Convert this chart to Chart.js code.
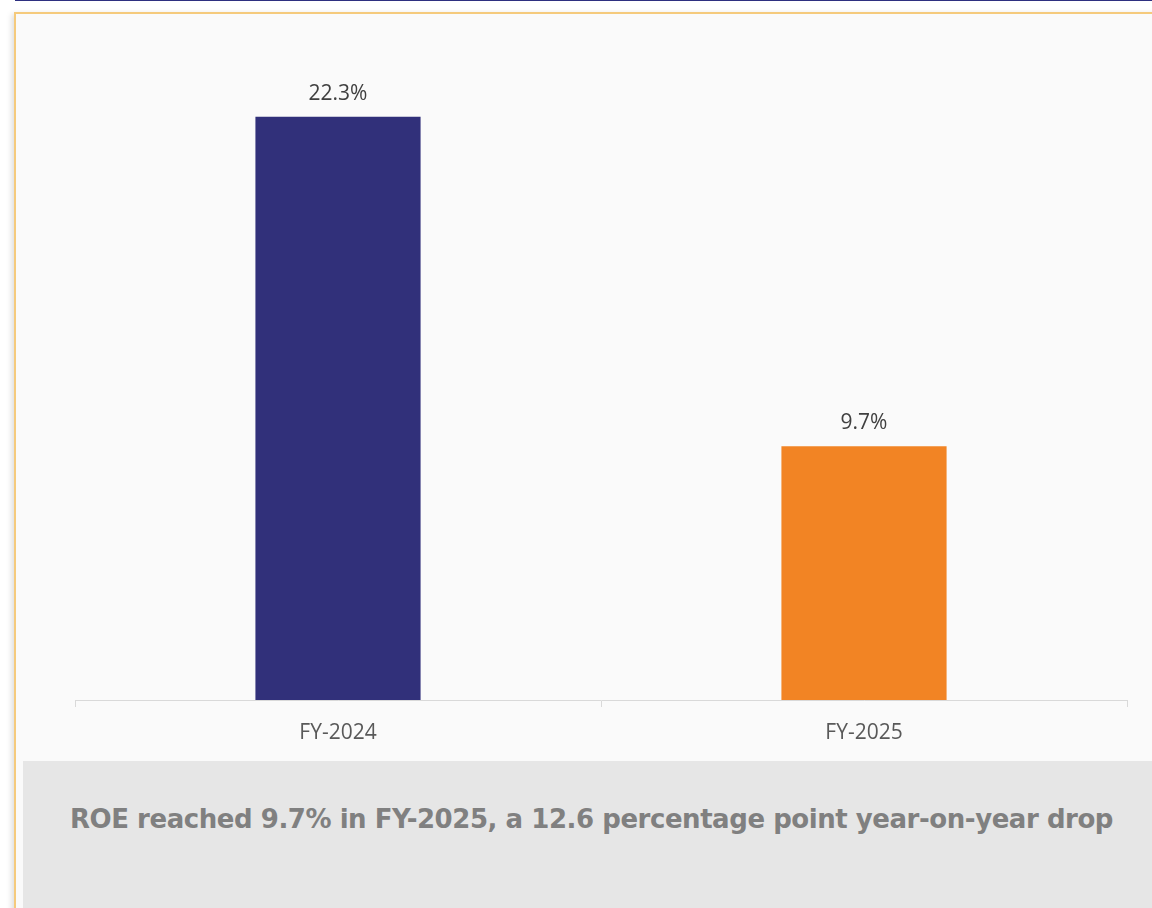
<!DOCTYPE html>
<html>
<head>
<meta charset="utf-8">
<script src="https://cdn.jsdelivr.net/npm/chart.js@4/dist/chart.umd.min.js"></script>
<style>
  html, body { margin: 0; padding: 0; background: #ffffff; width: 1152px; height: 908px; overflow: hidden; }
  #topline { position: absolute; left: 15px; top: 0; width: 1137px; height: 1px; background: #2e3080; }
  #panel { position: absolute; left: 14px; top: 12px; width: 1150px; height: 910px; background: #fafafa;
           border-top: 2px solid #f5ca7c; border-left: 2px solid #f5ca7c; box-shadow: -2px 2px 6px rgba(0,0,0,0.15); }
  #wrap { position: absolute; left: 0; top: 0; width: 1152px; height: 760px; }
  #note { position: absolute; left: 23px; top: 761px; width: 1129px; height: 147px; background: #e6e6e6; }
  #note p { margin: 0; position: absolute; left: 8px; right: 0; top: 43px; text-align: center;
            font-family: "DejaVu Sans", sans-serif; font-weight: bold; font-size: 26px; color: #808080; letter-spacing: -0.45px; }
</style>
</head>
<body>
<div id="topline"></div>
<div id="panel"></div>
<div id="wrap"><canvas id="c" width="1152" height="760"></canvas></div>
<div id="note"><p>ROE reached 9.7% in FY-2025, a 12.6 percentage point year-on-year drop</p></div>
<script>
const categories = ["FY-2024", "FY-2025"];
const roeValues = [22.3, 9.7];
const barColors = ["#31307a", "#f28424"];

const valueLabels = {
  id: 'valueLabels',
  afterDatasetsDraw(chart) {
    const ctx = chart.ctx;
    const meta = chart.getDatasetMeta(0);
    ctx.save();
    ctx.font = '21px "Open Sans", sans-serif';
    ctx.fillStyle = '#404040';
    ctx.textAlign = 'center';
    ctx.textBaseline = 'middle';
    meta.data.forEach((bar, i) => {
      ctx.fillText(roeValues[i].toFixed(1) + '%', bar.x, bar.y - 23);
    });
    ctx.restore();
  }
};

new Chart(document.getElementById('c'), {
  type: 'bar',
  data: {
    labels: categories,
    datasets: [{
      data: roeValues,
      backgroundColor: barColors,
      borderWidth: 0,
      barPercentage: 0.628,
      categoryPercentage: 0.5
    }]
  },
  options: {
    responsive: false,
    animation: false,
    layout: { padding: { left: 75, right: 25, top: 46, bottom: 0 } },
    plugins: { legend: { display: false }, tooltip: { enabled: false } },
    scales: {
      x: {
        grid: { display: true, drawOnChartArea: false, tickLength: 7, color: '#d9d9d9', lineWidth: 1, offset: true },
        border: { display: true, color: '#d9d9d9', width: 1 },
        ticks: { color: '#595959', font: { family: '"Open Sans", sans-serif', size: 21 }, padding: 13 },
        afterFit(scale) { scale.height = 60; }
      },
      y: {
        display: false,
        min: 0,
        max: 25
      }
    }
  },
  plugins: [valueLabels]
});
</script>
</body>
</html>
